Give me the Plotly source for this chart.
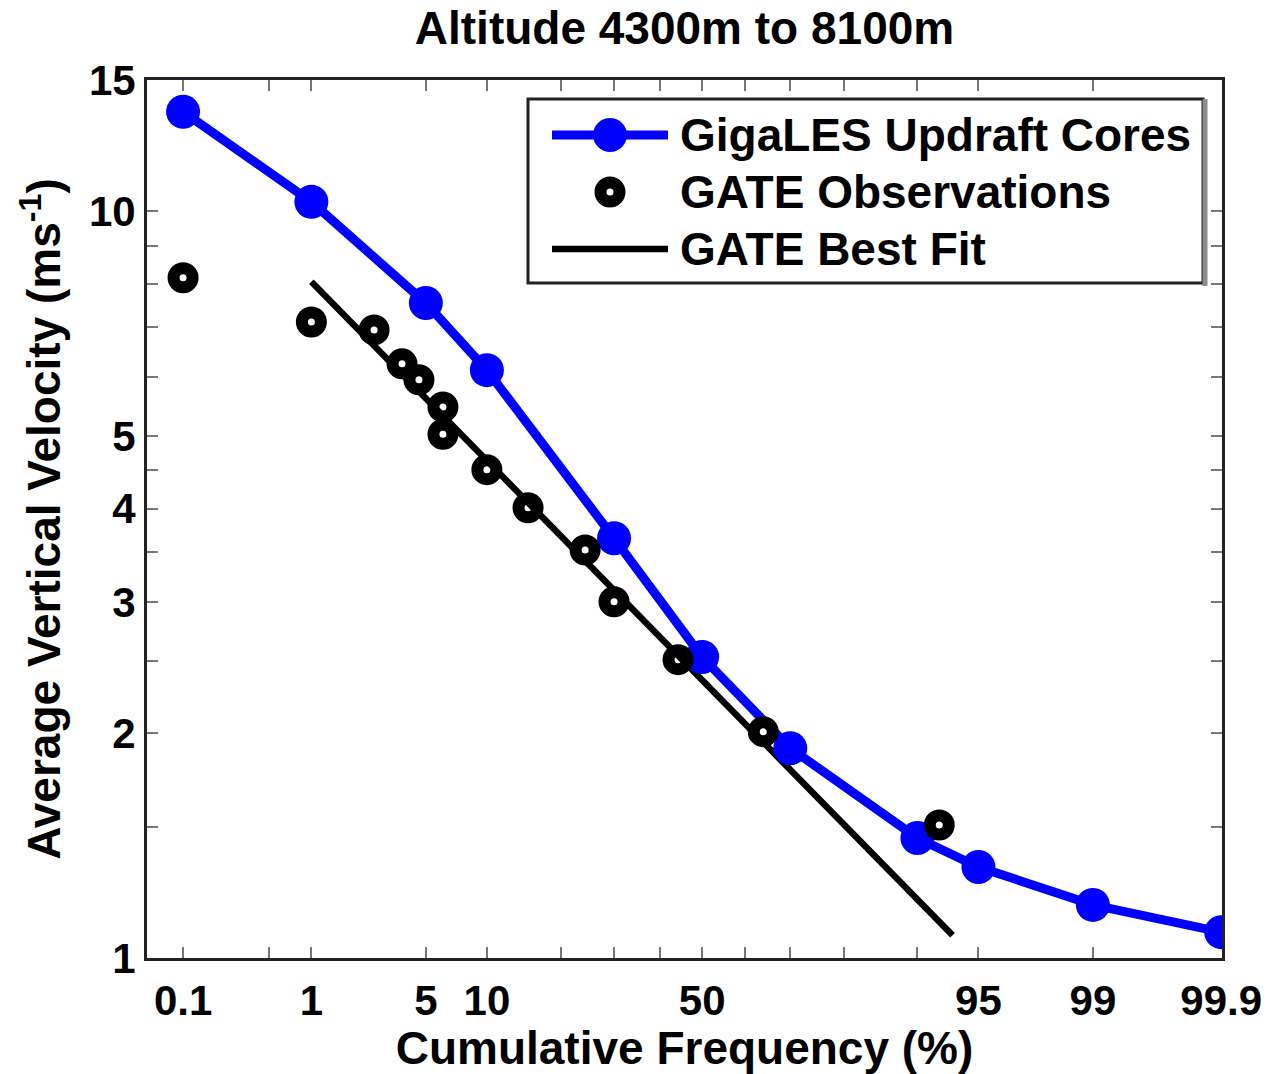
import plotly.graph_objects as go
from statistics import NormalDist

# ---------------- data ----------------
giga_pct = [0.1, 1, 5, 10, 30, 50, 70, 90, 95, 99, 99.9]
giga_vel = [13.6, 10.3, 7.54, 6.13, 3.65, 2.53, 1.91, 1.448, 1.324, 1.178, 1.083]

gate_pct = [0.1, 1, 2.54, 3.7, 4.59, 6.14, 6.14, 10.0, 15.0, 24.3, 30.0, 44.3, 64.2, 92.1]
gate_vel = [8.15, 7.11, 6.94, 6.25, 5.95, 5.47, 5.03, 4.51, 4.01, 3.52, 3.0, 2.51, 2.01, 1.507]

fit_pct = [1.0, 93.2]
fit_vel = [8.05, 1.073]

x_major_pct = [0.1, 1, 5, 10, 50, 95, 99, 99.9]
x_major_lbl = ["0.1", "1", "5", "10", "50", "95", "99", "99.9"]
x_minor_pct = [0.5, 20, 30, 40, 60, 70, 80, 90]
y_major_val = [1, 2, 3, 4, 5, 10, 15]
y_major_lbl = ["1", "2", "3", "4", "5", "10", "15"]
y_minor_val = [1.5, 2.5, 3.5, 4.5, 6, 7, 8, 9]

legend_names = ["GigaLES Updraft Cores", "GATE Observations", "GATE Best Fit"]

# ---------------- helpers ----------------
nd = NormalDist()
def z(p):
    return nd.inv_cdf(p / 100.0)

W, H = 1274, 1074
L, R, T, B = 147, 1222, 80, 958
PW, PH = R - L, B - T
def px(xp):
    return (xp - L) / PW
def py(yp):
    return (B - yp) / PH

FONT = "Liberation Sans, Arial, Helvetica, sans-serif"
BLUE = "#0000ff"

fig = go.Figure()
fig.add_trace(go.Scatter(
    x=[z(p) for p in fit_pct], y=fit_vel, mode="lines",
    line=dict(color="black", width=6.5), showlegend=False))
fig.add_trace(go.Scatter(
    x=[z(p) for p in giga_pct], y=giga_vel, mode="lines+markers",
    line=dict(color=BLUE, width=9),
    marker=dict(color=BLUE, size=34, line=dict(width=0)), showlegend=False))
fig.add_trace(go.Scatter(
    x=[z(p) for p in gate_pct], y=gate_vel, mode="markers",
    marker=dict(symbol="circle-open", color="black", size=19, line=dict(width=12, color="black")),
    showlegend=False))

# ---------------- manual legend (MATLAB style) ----------------
shapes = []
ann = []
lx0, lx1, ly0, ly1 = 528, 1203, 99, 283
shapes.append(dict(type="rect", xref="paper", yref="paper",
                   x0=px(lx0), x1=px(lx1), y0=py(ly1), y1=py(ly0),
                   line=dict(color="#222222", width=3), fillcolor="white", layer="above"))
shapes.append(dict(type="line", xref="paper", yref="paper",
                   x0=px(1205), x1=px(1205), y0=py(286), y1=py(99),
                   line=dict(color="#8c8c8c", width=5), layer="above"))
rows = [135, 192, 249]
sx0, sx1, sxc = 552, 668, 610
shapes.append(dict(type="line", xref="paper", yref="paper",
                   x0=px(sx0), x1=px(sx1), y0=py(rows[0]), y1=py(rows[0]),
                   line=dict(color=BLUE, width=9), layer="above"))
r = 17
shapes.append(dict(type="circle", xref="paper", yref="paper",
                   x0=px(sxc - r), x1=px(sxc + r), y0=py(rows[0] + r), y1=py(rows[0] - r),
                   line=dict(width=0), fillcolor=BLUE, layer="above"))
r2 = 9.5
shapes.append(dict(type="circle", xref="paper", yref="paper",
                   x0=px(sxc - r2), x1=px(sxc + r2), y0=py(rows[1] + r2), y1=py(rows[1] - r2),
                   line=dict(width=12, color="black"), fillcolor="rgba(0,0,0,0)", layer="above"))
shapes.append(dict(type="line", xref="paper", yref="paper",
                   x0=px(sx0), x1=px(sx1), y0=py(rows[2]), y1=py(rows[2]),
                   line=dict(color="black", width=6.5), layer="above"))
for name, ry in zip(legend_names, rows):
    ann.append(dict(text=name, xref="paper", yref="paper", x=px(678), y=py(ry),
                    xanchor="left", yanchor="middle", showarrow=False,
                    font=dict(family=FONT, size=46, color="black", weight="bold")))

fig.update_layout(
    width=W, height=H,
    margin=dict(l=L, r=W - R, t=T, b=H - B, pad=0, autoexpand=False),
    paper_bgcolor="white", plot_bgcolor="white",
    font=dict(family=FONT, color="black", weight="bold"),
    title=dict(text="Altitude 4300m to 8100m", x=0.5, xref="paper",
               y=1 - 28 / H, yref="container", xanchor="center", yanchor="middle",
               font=dict(family=FONT, size=46, weight="bold", color="black")),
    shapes=shapes, annotations=ann, showlegend=False,
)
tick_style = dict(ticks="inside", ticklen=11, tickwidth=2, tickcolor="#777777")
fig.update_xaxes(
    range=[-3.305, 3.095], tickmode="array",
    tickvals=[z(p) for p in x_major_pct], ticktext=x_major_lbl,
    minor=dict(tickmode="array", tickvals=[z(p) for p in x_minor_pct], **tick_style),
    ticklabelstandoff=4, automargin=False,
    showline=True, linecolor="#222222", linewidth=3, mirror="allticks",
    showgrid=False, zeroline=False,
    tickfont=dict(family=FONT, size=42, weight="bold", color="black"),
    title=dict(text="Cumulative Frequency (%)", standoff=12,
               font=dict(family=FONT, size=46, weight="bold", color="black")),
    **tick_style,
)
fig.update_yaxes(
    type="log", range=[0, 1.17609], tickmode="array",
    tickvals=y_major_val, ticktext=y_major_lbl,
    minor=dict(tickmode="array", tickvals=y_minor_val, **tick_style),
    automargin=False,
    showline=True, linecolor="#222222", linewidth=3, mirror="allticks",
    showgrid=False, zeroline=False,
    tickfont=dict(family=FONT, size=42, weight="bold", color="black"),
    title=dict(text="Average Vertical Velocity (ms<sup>-1</sup>)", standoff=14,
               font=dict(family=FONT, size=46, weight="bold", color="black")),
    **tick_style,
)

fig.write_html("out.html")
